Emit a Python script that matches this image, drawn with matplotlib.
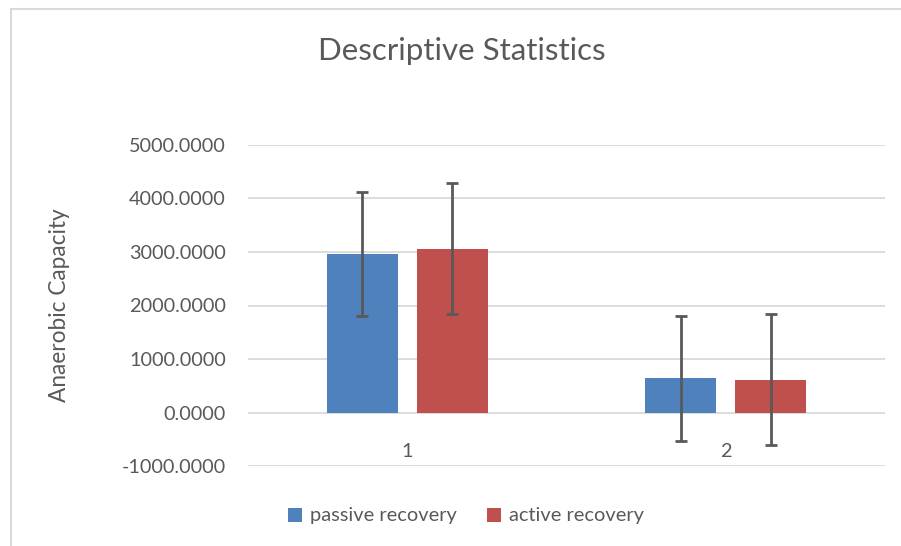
import matplotlib.pyplot as plt
import matplotlib.patches as mpatches
import numpy as np

plt.rcParams['font.family'] = ['Lato', 'DejaVu Sans']

# values
groups = ['1', '2']
passive_mean = [2965, 638]
passive_err = [1160, 1168]
active_mean = [3060, 616]
active_err = [1225, 1220]
series_names = ['passive recovery', 'active recovery']

txt = '#595959'
blue = '#4F81BD'
red = '#C0504D'

fig = plt.figure(figsize=(9.01, 5.46), dpi=100)
ax = fig.add_axes([248 / 901, 1 - 466 / 546, (885 - 248) / 901, (466 - 145) / 546])

x = np.arange(len(groups))
w = 0.223
off = 0.1415
ekw = dict(ecolor=txt, elinewidth=2, capsize=4.5, capthick=2)
ax.bar(x - off, passive_mean, w, color=blue, yerr=passive_err, error_kw=ekw,
       label=series_names[0], zorder=3)
ax.bar(x + off, active_mean, w, color=red, yerr=active_err, error_kw=ekw,
       label=series_names[1], zorder=3)

ax.set_xlim(-0.5, 1.5)
ax.set_ylim(-1000, 5000)
ax.set_yticks(np.arange(-1000, 5001, 1000))
ax.set_yticklabels(['%.4f' % v for v in np.arange(-1000, 5001, 1000)])
ax.set_xticks(x)
ax.set_xticklabels(groups)
ax.yaxis.grid(True, color='#d9d9d9', lw=1.3, zorder=0)
ax.tick_params(length=0, labelsize=14.3, colors=txt)
ax.tick_params(axis='y', pad=16)
ax.tick_params(axis='x', pad=22)
# category axis crosses at zero, like the spreadsheet chart
ax.spines['bottom'].set_position(('data', 0))
for s in ax.spines.values():
    s.set_visible(False)

fig.text(462 / 901, 1 - 51 / 546, 'Descriptive Statistics', ha='center', va='center',
         fontsize=22.5, color=txt)
fig.text(60 / 901, 1 - 305 / 546, 'Anaerobic Capacity', ha='center', va='center',
         rotation=90, fontsize=16.3, color=txt)

leg = fig.legend(loc='center', bbox_to_anchor=(466 / 901, 1 - 516 / 546), ncol=2,
                 frameon=False, fontsize=14.4, handlelength=0.7, handleheight=0.7,
                 handletextpad=0.4, columnspacing=1.5)
for t in leg.get_texts():
    t.set_color(txt)

# chart area border (cropped on the right and bottom)
fig.patches.append(mpatches.Rectangle((11 / 901, -0.1), 1.2, 1 - 9 / 546 + 0.1,
                                      transform=fig.transFigure, fill=False,
                                      edgecolor='#d9d9d9', lw=1.5))

fig.savefig('out.png', dpi=100)
